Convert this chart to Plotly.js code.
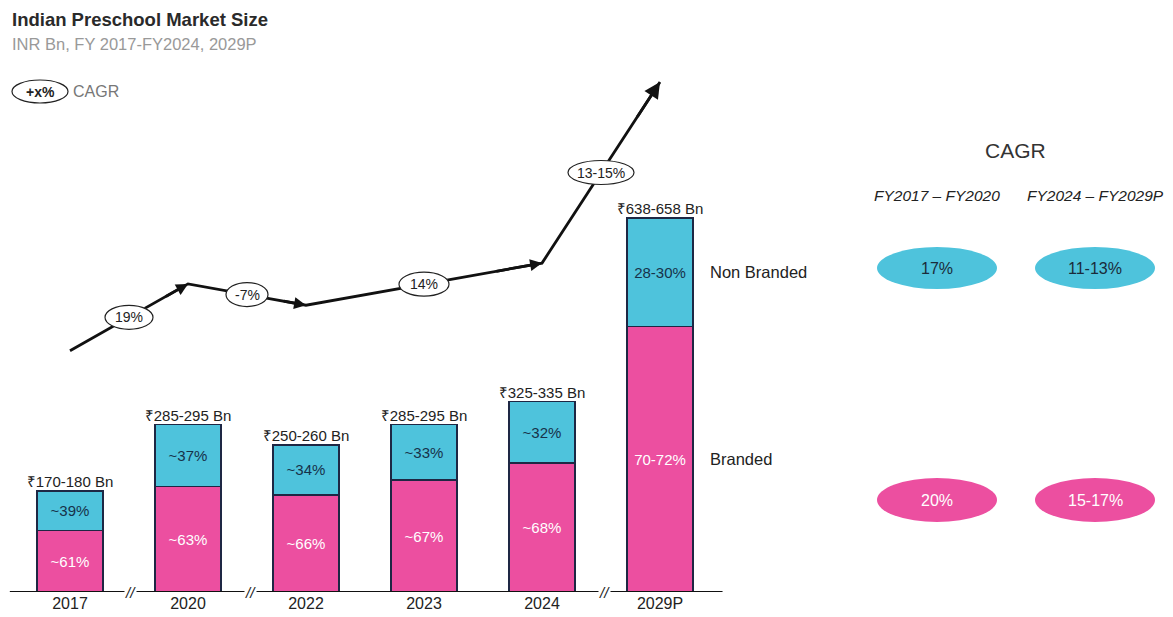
<!DOCTYPE html>
<html><head><meta charset="utf-8">
<script src="https://cdn.plot.ly/plotly-3.0.1.min.js"></script>
<style>html,body{margin:0;padding:0;background:#fff}#chart{width:1173px;height:617px}</style>
</head><body><div id="chart"></div>
<script>
// ---- data ----
const categories = ["2017", "2020", "2022", "2023", "2024", "2029P"];
const brandedValues = [107, 183, 168, 194, 224, 460];
const nonBrandedValues = [68, 107, 87, 96, 106, 188];
const brandedShare = ["~61%", "~63%", "~66%", "~67%", "~68%", "70-72%"];
const nonBrandedShare = ["~39%", "~37%", "~34%", "~33%", "~32%", "28-30%"];
const totalLabels = ["₹170-180 Bn", "₹285-295 Bn", "₹250-260 Bn", "₹285-295 Bn", "₹325-335 Bn", "₹638-658 Bn"];
const trendIdx = [0, 1, 2, 4, 5];
const trendLevel = [418, 534, 497, 570, 884];
const segmentCagr = ["19%", "-7%", "14%", "13-15%"];
const cagrPeriods = ["FY2017 – FY2020", "FY2024 – FY2029P"];
const nonBrandedCagr = ["17%", "11-13%"];
const brandedCagr = ["20%", "15-17%"];

// ---- style ----
const PINK = "#EC4FA0", BLUE = "#4EC3DC", EDGE = "#1E2744";
const FONT = "Liberation Sans, Arial, sans-serif";
const xPos = categories.map((c, i) => i);
const totals = brandedValues.map((b, i) => b + nonBrandedValues[i]);
const W = 1173, H0 = 592;
const px = p => p / W;
const py = p => (H0 - p) / H0;

const traces = [
  {type: "bar", x: xPos, y: brandedValues, width: 0.56, name: "Branded",
   marker: {color: PINK, line: {color: EDGE, width: 1.5}},
   text: brandedShare, textposition: "inside", insidetextanchor: "middle", textangle: 0,
   constraintext: "none", textfont: {color: "#ffffff", size: 15, family: FONT}, hoverinfo: "skip"},
  {type: "bar", x: xPos, y: nonBrandedValues, width: 0.56, name: "Non Branded",
   marker: {color: BLUE, line: {color: EDGE, width: 1.5}},
   text: nonBrandedShare, textposition: "inside", insidetextanchor: "middle", textangle: 0,
   constraintext: "none", textfont: {color: "#17324a", size: 15, family: FONT}, hoverinfo: "skip"},
  {type: "scatter", mode: "text", x: xPos, y: totals, text: totalLabels, textposition: "top center",
   textfont: {size: 15, color: "#222", family: FONT}, hoverinfo: "skip"},
  {type: "scatter", mode: "lines", x: trendIdx, y: trendLevel,
   line: {color: "#111", width: 2.8}, hoverinfo: "skip"}
];

const shapes = [
  {type: "line", xref: "x", yref: "y", x0: -0.51, x1: 5.53, y0: 0, y1: 0, line: {color: "#111", width: 1.8}, layer: "above"}
];
const annotations = [];

// CAGR ellipses on trend line
const ellW = [48, 42, 50, 66];
for (let s = 0; s < segmentCagr.length; s++) {
  const mx = (trendIdx[s] + trendIdx[s + 1]) / 2, my = (trendLevel[s] + trendLevel[s + 1]) / 2;
  shapes.push({type: "circle", xref: "x", yref: "y", xsizemode: "pixel", ysizemode: "pixel",
    xanchor: mx, yanchor: my, x0: -ellW[s] / 2, x1: ellW[s] / 2, y0: -12, y1: 12,
    fillcolor: "#fff", line: {color: "#222", width: 1.2}, layer: "above"});
  annotations.push({xref: "x", yref: "y", x: mx, y: my, xanchor: "center", yanchor: "middle",
    text: segmentCagr[s], showarrow: false, font: {size: 14, color: "#222", family: FONT}});
  // arrowheads
  const tx = trendIdx[s + 1], ty = trendLevel[s + 1];
  const fx = trendIdx[s] + 0.8 * (tx - trendIdx[s]), fy = trendLevel[s] + 0.8 * (ty - trendLevel[s]);
  const last = s === segmentCagr.length - 1;
  annotations.push({xref: "x", yref: "y", axref: "x", ayref: "y", x: tx, y: ty, ax: fx, ay: fy,
    text: "", showarrow: true, arrowhead: 2, arrowsize: last ? 1.15 : 0.85, arrowwidth: 2.8, arrowcolor: "#111", standoff: 0});
}

// axis break marks
[0.51, 1.53, 4.53].forEach(bx => annotations.push({xref: "x", yref: "y", x: bx, y: 0, xanchor: "center", yanchor: "middle",
  text: "<i>//</i>", showarrow: false, bgcolor: "#fff", font: {size: 15, color: "#222", family: FONT}, borderpad: 0}));

// segment labels at the 2029P bar
annotations.push({xref: "x", yref: "y", x: 5, xshift: 48, xanchor: "left", yanchor: "middle",
  y: brandedValues[5] + nonBrandedValues[5] / 2, text: "Non Branded", showarrow: false,
  font: {size: 16.5, color: "#222", family: FONT}});
annotations.push({xref: "x", yref: "y", x: 5, xshift: 48, xanchor: "left", yanchor: "middle",
  y: brandedValues[5] / 2, text: "Branded", showarrow: false,
  font: {size: 16.5, color: "#222", family: FONT}});

// title block
annotations.push({xref: "paper", yref: "paper", x: px(10), y: py(20), xanchor: "left", yanchor: "middle",
  text: "<b>Indian Preschool Market Size</b>", showarrow: false, font: {size: 18.5, color: "#2a2a2a", family: FONT}});
annotations.push({xref: "paper", yref: "paper", x: px(10), y: py(44), xanchor: "left", yanchor: "middle",
  text: "INR Bn, FY 2017-FY2024, 2029P", showarrow: false, font: {size: 16.5, color: "#999", family: FONT}});
shapes.push({type: "circle", xref: "paper", yref: "paper", x0: px(12), x1: px(68), y0: py(103), y1: py(80),
  fillcolor: "#fff", line: {color: "#222", width: 1.2}});
annotations.push({xref: "paper", yref: "paper", x: px(40), y: py(91.5), xanchor: "center", yanchor: "middle",
  text: "<b>+x%</b>", showarrow: false, font: {size: 14, color: "#222", family: FONT}});
annotations.push({xref: "paper", yref: "paper", x: px(71), y: py(91.5), xanchor: "left", yanchor: "middle",
  text: "CAGR", showarrow: false, font: {size: 16, color: "#777", family: FONT}});

// right CAGR panel
annotations.push({xref: "paper", yref: "paper", x: px(1015), y: py(150), xanchor: "center", yanchor: "middle",
  text: "CAGR", showarrow: false, font: {size: 21, color: "#333", family: FONT}});
const colX = [937, 1095];
cagrPeriods.forEach((p, k) => {
  annotations.push({xref: "paper", yref: "paper", x: px(colX[k]), y: py(195), xanchor: "center", yanchor: "middle",
    text: "<i>" + p + "</i>", showarrow: false, font: {size: 15.5, color: "#222", family: FONT}});
  shapes.push({type: "circle", xref: "paper", yref: "paper", x0: px(colX[k] - 60), x1: px(colX[k] + 60),
    y0: py(289), y1: py(247), fillcolor: BLUE, line: {width: 0}});
  annotations.push({xref: "paper", yref: "paper", x: px(colX[k]), y: py(268), xanchor: "center", yanchor: "middle",
    text: nonBrandedCagr[k], showarrow: false, font: {size: 16, color: "#1b2b3a", family: FONT}});
  shapes.push({type: "circle", xref: "paper", yref: "paper", x0: px(colX[k] - 60), x1: px(colX[k] + 60),
    y0: py(522), y1: py(478), fillcolor: PINK, line: {width: 0}});
  annotations.push({xref: "paper", yref: "paper", x: px(colX[k]), y: py(500), xanchor: "center", yanchor: "middle",
    text: brandedCagr[k], showarrow: false, font: {size: 16, color: "#ffffff", family: FONT}});
});

const layout = {
  width: 1173, height: 617, margin: {l: 0, r: 0, t: 0, b: 25},
  paper_bgcolor: "#fff", plot_bgcolor: "#fff", barmode: "stack", showlegend: false,
  xaxis: {range: [-70 / 118, (W - 70) / 118], tickvals: xPos, ticktext: categories, showgrid: false,
    zeroline: false, showline: false, ticks: "", tickfont: {size: 16, color: "#222", family: FONT}, fixedrange: true},
  yaxis: {range: [0, H0 / 0.577], visible: false, showgrid: false, zeroline: false, fixedrange: true},
  shapes: shapes, annotations: annotations
};
Plotly.newPlot("chart", traces, layout, {displayModeBar: false, staticPlot: true});
</script></body></html>
